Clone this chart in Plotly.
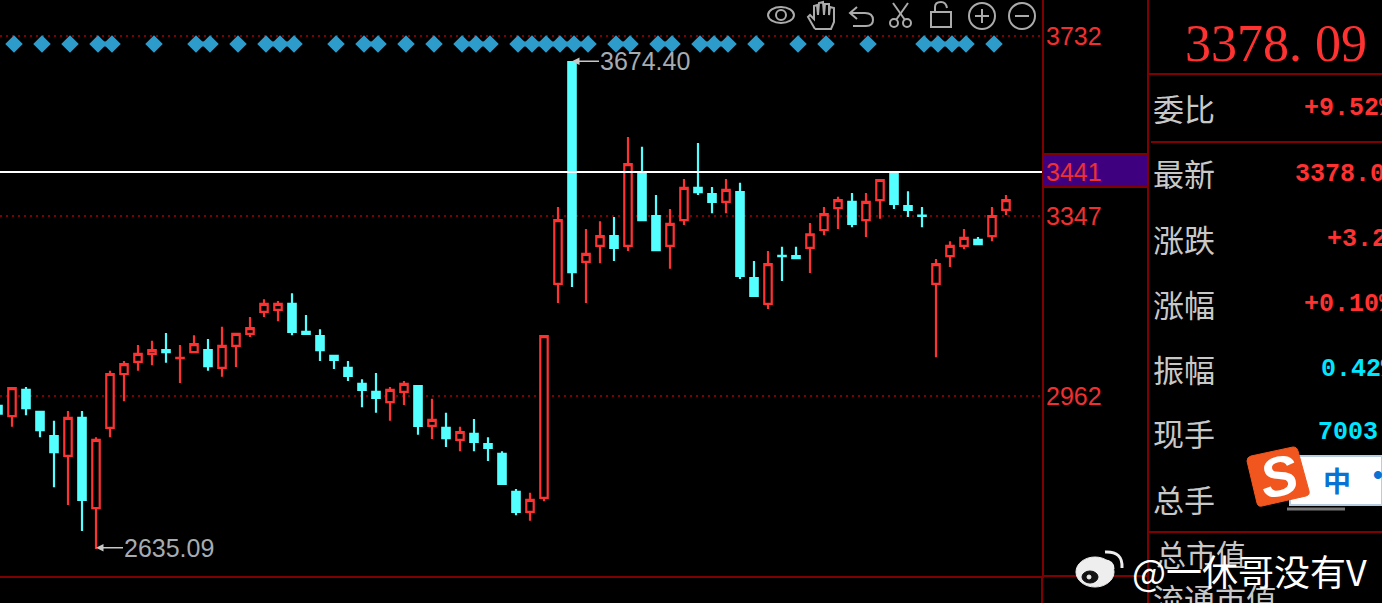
import plotly.graph_objects as go

W, H = 1382, 603

index = list(range(-1, 72))
opens = [2941,2919,2975,2928,2876,2834,2915,2722,2894,3009,3035,3052,3060,3043,3056,3060,3022,3069,3095,3142,3146,3159,3099,3090,3048,3022,2988,2971,2949,2971,2983,2898,2894,2868,2881,2859,2838,2757,2714,2744,3202,3676,3249,3283,3304,3283,3437,3347,3283,3338,3407,3394,3377,3398,3214,3159,3262,3261,3279,3317,3364,3377,3338,3381,3437,3368,3348,3202,3261,3283,3296,3304,3360]
highs = [2941,2979,2981,2928,2909,2930,2930,2874,3016,3037,3071,3080,3097,3071,3092,3084,3110,3095,3131,3169,3165,3182,3135,3105,3048,3037,2998,3011,2981,2994,2983,2956,2926,2896,2913,2874,2844,2763,2755,3090,3366,3678,3319,3336,3345,3516,3495,3392,3362,3426,3503,3409,3426,3418,3251,3272,3281,3281,3332,3366,3388,3396,3396,3424,3443,3400,3366,3255,3293,3319,3302,3366,3392]
lows = [2924,2896,2921,2874,2767,2729,2673,2635,2874,2951,3016,3028,3033,2990,3056,3016,3003,3024,3088,3131,3122,3092,3095,3037,3020,2994,2938,2926,2909,2943,2879,2870,2853,2844,2844,2823,2774,2707,2695,2737,3161,3195,3161,3246,3251,3272,3338,3274,3234,3328,3392,3353,3353,3212,3176,3148,3208,3257,3225,3306,3319,3323,3302,3341,3362,3345,3323,3045,3238,3276,3287,3293,3349]
closes = [2924,2979,2936,2889,2842,2915,2740,2868,3009,3030,3052,3060,3056,3043.5,3073,3026,3069,3095,3107,3159,3159,3099,3095,3060,3039,3005,2975,2958,2975,2988,2898,2911,2872,2885,2864,2851,2774,2714,2740,3090,3338,3227,3266,3304,3279,3458,3338,3274,3330,3407,3398,3377,3403,3219,3176,3244,3261,3257,3308,3351,3381,3330,3377,3424,3373,3360,3347,3244,3283,3300,3287,3347,3381]

signal_index = [0,2,4,6,7,10,13,14,16,18,19,20,23,25,26,28,30,32,33,34,36,37,38,39,40,41,43,44,46,47,49,50,51,53,56,58,61,65,66,67,68,70]
signal_level = 3715

scale_ticks = [3732, 3441, 3347, 2962]
last_line = 3441
low_label = ("2635.09", 6, 2635.09)
high_label = ("3674.40", 40, 3678)

big_price = "3378. 09"
panel_rows = [
    ("委比", 108, "+9.52%", 1303, 109, "#FF3232"),
    ("最新", 172, "3378.09", 1294, 174, "#FF3232"),
    ("涨跌", 238, "+3.21", 1326, 240, "#FF3232"),
    ("涨幅", 303, "+0.10%", 1303, 304, "#FF3232"),
    ("振幅", 368, "0.42%", 1320, 369, "#00E6FF"),
    ("现手", 433, "7003", 1317, 433, "#00E6FF"),
    ("总手", 498, "", 0, 0, "#FF3232"),
]

RED = "#FF3232"
CYAN = "#54FFFF"
DARK = "#7F0000"
GRAY = "#ABABAB"
TEXT = "#C8C8C8"
CJK = "Noto Sans CJK SC"


def fx(x):
    return x / W


def fy(y):
    return 1 - y / H


def path(*segs):
    out = []
    for s in segs:
        nums = s[1:]
        pts = [f"{fx(nums[k]):.5f},{fy(nums[k + 1]):.5f}" for k in range(0, len(nums), 2)]
        out.append(s[0] + " ".join(pts))
    return " ".join(out)


def pline(*segs, color=GRAY, width=2, fill=None, layer="above"):
    d = dict(type="path", xref="paper", yref="paper", path=path(*segs), layer=layer,
             line=dict(color=color, width=width))
    if fill:
        d["fillcolor"] = fill
    return d


def rect(x0, y0, x1, y1, fill=None, color=None, width=0, layer="above"):
    return dict(type="rect", xref="paper", yref="paper", x0=fx(x0), x1=fx(x1), y0=fy(y0), y1=fy(y1),
                fillcolor=fill or "rgba(0,0,0,0)", line=dict(color=color or "rgba(0,0,0,0)", width=width), layer=layer)


def hv(x0, y0, x1, y1, color=DARK, width=2):
    return dict(type="line", xref="paper", yref="paper", x0=fx(x0), x1=fx(x1), y0=fy(y0), y1=fy(y1),
                line=dict(color=color, width=width), layer="above")


def ell(cx, cy, rx, ry, color=GRAY, width=2, fill=None):
    return dict(type="circle", xref="paper", yref="paper", x0=fx(cx - rx), x1=fx(cx + rx), y0=fy(cy - ry), y1=fy(cy + ry),
                line=dict(color=color, width=width), fillcolor=fill or "rgba(0,0,0,0)", layer="above")


def label(x, y, text, size, color=TEXT, family=CJK, anchor="left", **kw):
    return dict(xref="paper", yref="paper", x=fx(x), y=fy(y), text=text, showarrow=False, xanchor=anchor,
                yanchor="middle", borderpad=0, font=dict(size=size, color=color, family=family), **kw)


fig = go.Figure()

# signal row: adjacent signals are joined by a bar
sx, sy = [], []
for k, s in enumerate(signal_index):
    if k and s - signal_index[k - 1] > 1:
        sx.append(None)
        sy.append(None)
    sx.append(s + 2 / 14)
    sy.append(signal_level)
fig.add_trace(go.Scatter(x=sx, y=sy, mode="lines", line=dict(color="#2B8FC4", width=5), hoverinfo="skip"))
fig.add_trace(go.Scatter(x=[s + 2 / 14 for s in signal_index], y=[signal_level] * len(signal_index), mode="markers",
                         marker=dict(symbol="diamond", size=13.5, color="#2E9CCB", line=dict(width=0)), hoverinfo="skip"))

fig.add_trace(go.Candlestick(
    x=index, open=opens, high=highs, low=lows, close=closes,
    increasing=dict(line=dict(color=RED, width=2.2), fillcolor="#000000"),
    decreasing=dict(line=dict(color=CYAN, width=2.2), fillcolor=CYAN),
    hoverinfo="skip", whiskerwidth=0,
))

shapes = [
    rect(1043, 155, 1147, 187, fill="#3F0080", layer="below"),
    hv(1042, 154, 1148, 154), hv(1042, 187, 1148, 187),
    dict(type="line", xref="x domain", yref="y", x0=0, x1=1, y0=last_line, y1=last_line,
         line=dict(color="#FFFFFF", width=2), layer="above"),
    hv(1042, 576, 1042, 603), hv(1042, 576, 1148, 576),
    hv(1148, 0, 1148, 603),
    hv(1148, 74, 1382, 74), hv(1151, 142, 1382, 142), hv(1148, 532, 1382, 532),
    # toolbar icons
    ell(781, 15, 13, 8), ell(781, 15, 5, 5),
    pline(("M", 815, 29), ("L", 808, 17), ("L", 810, 15), ("L", 814, 19), ("L", 814, 6), ("L", 817, 5), ("L", 818, 15),
          ("L", 819, 3), ("L", 823, 2), ("L", 824, 15), ("L", 825, 4), ("L", 829, 4), ("L", 829, 15), ("L", 830, 7),
          ("L", 834, 8), ("L", 834, 22), ("L", 831, 29), ("L", 815, 29)),
    pline(("M", 857, 7), ("L", 850, 13), ("L", 857, 19)),
    pline(("M", 850, 13), ("L", 865, 13), ("Q", 873, 13, 873, 20), ("Q", 873, 26, 866, 26), ("L", 853, 26)),
    ell(894, 23, 4, 4), ell(907, 23, 4, 4),
    pline(("M", 896, 20), ("L", 908, 3)), pline(("M", 905, 20), ("L", 893, 3)),
    rect(931, 12, 951, 27, color=GRAY, width=2),
    pline(("M", 935, 12), ("L", 935, 7), ("Q", 935, 2, 941, 2), ("Q", 946, 2, 947, 8)),
    ell(982, 16, 13, 13), hv(975, 16, 989, 16, GRAY), hv(982, 9, 982, 23, GRAY),
    ell(1022, 16, 13, 13), hv(1015, 16, 1029, 16, GRAY),
    # input-method widget
    rect(1290, 456, 1382, 505, fill="#FFFFFF", color="#B8CCE0", width=2),
    hv(1287, 509, 1345, 509, "#777777", 3),
    pline(("M", 1251, 456), ("L", 1293, 447), ("Q", 1297, 447, 1298, 451), ("L", 1309, 491), ("Q", 1310, 495, 1306, 496),
          ("L", 1262, 506), ("Q", 1258, 507, 1257, 503), ("L", 1247, 461), ("Q", 1247, 457, 1251, 456),
          color="#F0561E", width=1, fill="#F0561E"),
    # watermark logo
    ell(1095, 572, 19, 15, color="#EEEEEE", width=1, fill="#EEEEEE"),
    ell(1090, 577, 8, 6, color="#111111", width=1, fill="#111111"),
    ell(1089, 577, 2, 2, color="#EEEEEE", width=1, fill="#EEEEEE"),
    pline(("M", 1105, 552), ("Q", 1123, 551, 1122, 568), color="#EEEEEE", width=3),
    pline(("M", 1104, 561), ("Q", 1113, 561, 1113, 569), color="#EEEEEE", width=3),
]

ann = [
    dict(x=low_label[1], y=low_label[2], text=low_label[0], xref="x", yref="y", showarrow=True, ax=27, ay=0,
         xanchor="left", yanchor="middle", arrowcolor="#C8C8C8", arrowwidth=1.5, arrowhead=2, arrowsize=1,
         yshift=1, font=dict(size=25, color="#A6ACB2", family="Liberation Sans"), borderpad=0),
    dict(x=high_label[1], y=high_label[2], text=high_label[0], xref="x", yref="y", showarrow=True, ax=27, ay=0,
         xanchor="left", yanchor="middle", arrowcolor="#C8C8C8", arrowwidth=1.5, arrowhead=2, arrowsize=1,
         font=dict(size=25, color="#A6ACB2", family="Liberation Sans"), borderpad=0),
    label(1184, 43, big_price, 52, RED, "Liberation Serif"),
]
for name, ly, val, vx, vy, col in panel_rows:
    ann.append(label(1152, ly, name, 31))
    if val:
        ann.append(label(vx, vy, f"<b>{val}</b>", 25, col, "Liberation Mono"))
ann += [
    label(1155, 553, "总市值", 30),
    label(1152, 597, "流通市值", 31),
    label(1278, 476, "<b><i>S</i></b>", 56, "#FFFFFF", "Liberation Sans", anchor="center", textangle=-12),
    label(1322, 480, "<b>中</b>", 28, "#0A72D2"),
    label(1372, 474, "<b>•</b>", 28, "#0A72D2", "Liberation Sans"),
    label(1131, 570, "@一休哥没有V", 36, "#FFFFFF"),
]

fig.update_layout(
    width=W, height=H, margin=dict(l=0, r=0, t=0, b=0, pad=0),
    paper_bgcolor="#000000", plot_bgcolor="#000000", showlegend=False,
    boxgap=0.24, shapes=shapes, annotations=ann,
    xaxis=dict(domain=[0, 1042 / W], range=[-6 / 7, (1042 - 12) / 14], showgrid=False, zeroline=False,
               showticklabels=False, ticks="", rangeslider=dict(visible=False),
               showline=True, linecolor=DARK, linewidth=2),
    yaxis=dict(domain=[(H - 576) / H, 1], range=[3809 - 2.1389 * 576, 3809], side="right", anchor="x",
               tickvals=scale_ticks, ticktext=[str(t) for t in scale_ticks], ticks="",
               tickfont=dict(size=25, color="#F03030", family="Liberation Sans"), ticklabelstandoff=-3,
               showgrid=True, gridcolor=DARK, gridwidth=2, griddash="2px,4px", zeroline=False,
               showline=True, linecolor=DARK, linewidth=2),
)

fig.write_html("out.html", config={"displayModeBar": False},
               post_script="document.body.style.margin='0';document.body.style.background='#000';document.body.style.overflow='hidden';")
